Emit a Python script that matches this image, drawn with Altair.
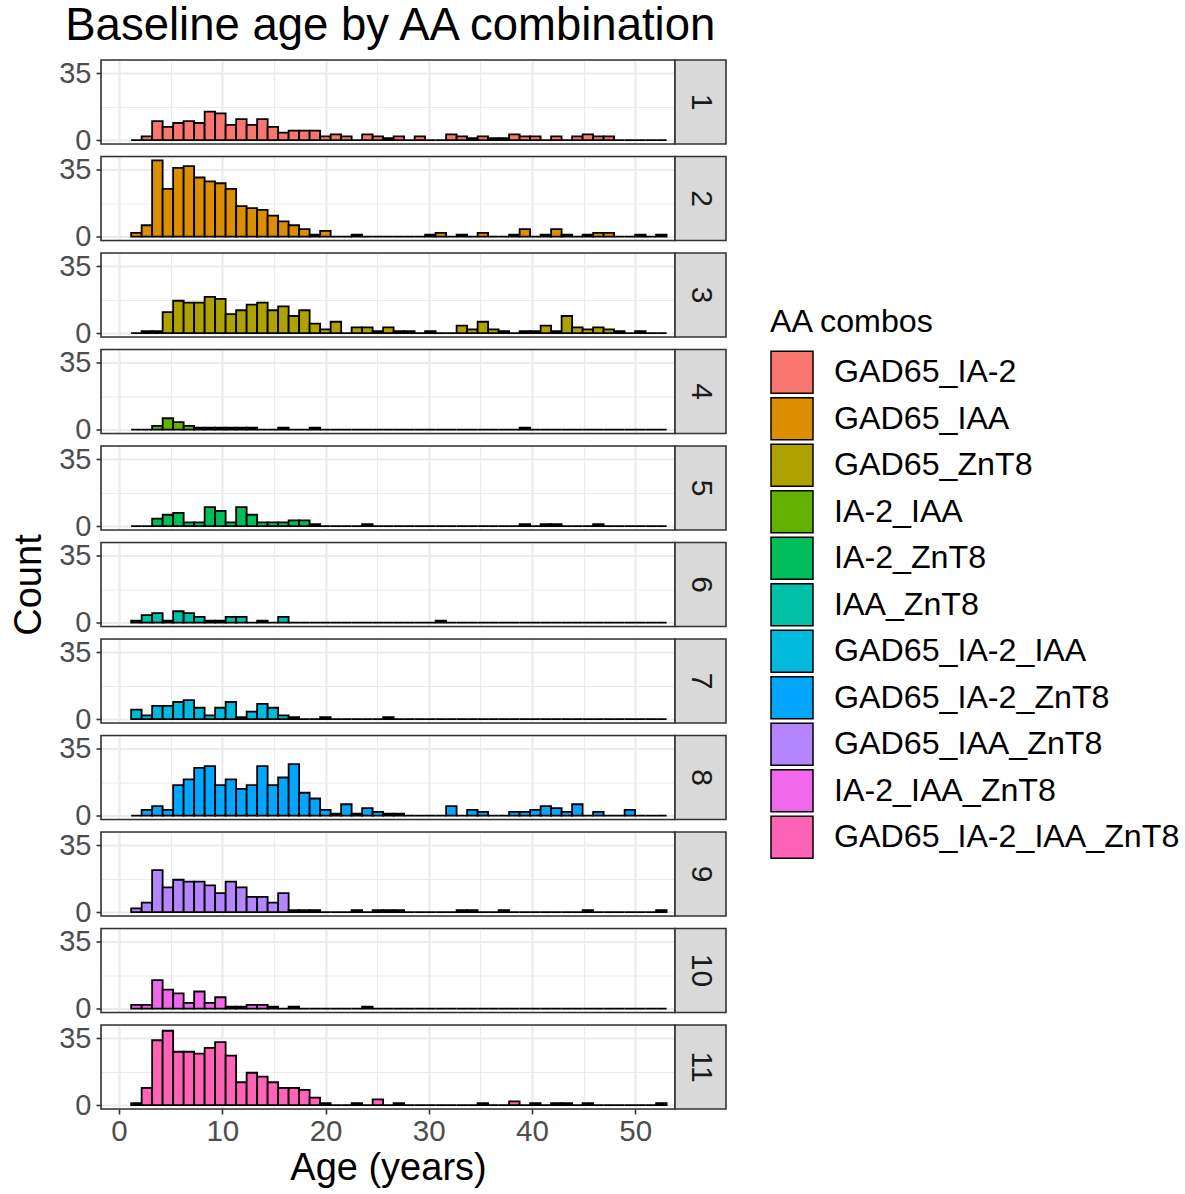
import altair as alt
import pandas as pd

combos = ["GAD65_IA-2", "GAD65_IAA", "GAD65_ZnT8", "IA-2_IAA", "IA-2_ZnT8", "IAA_ZnT8",
          "GAD65_IA-2_IAA", "GAD65_IA-2_ZnT8", "GAD65_IAA_ZnT8", "IA-2_IAA_ZnT8",
          "GAD65_IA-2_IAA_ZnT8"]
colors = ["#F8766D", "#DB8E00", "#AEA200", "#64B200", "#00BD5C", "#00C1A7",
          "#00BADE", "#00A6FF", "#B385FF", "#EF67EB", "#FF63B6"]

bin_first_edge = 1.17
bin_width = 1.017

counts_1 = [0,2,10,7,9,10,9,15,14,8, 11,8,11,7,4,5,5,5,2,3, 2,0,3,2,1,2,0,2,0,0, 3,2,1,2,1,1,3,2,2,0, 2,0,2,3,2,2,0,0,0,0,0]
counts_2 = [2,6,40,25,36,37,31,29,28,25, 16,15,14,11,8,6,4,1,3,0, 0,1,0,0,0,0,0,0,1,2, 0,1,0,2,0,0,1,4,0,1, 4,1,0,1,2,2,0,0,1,0,1]
counts_3 = [0,1,1,11,17,16,16,19,18,10, 12,15,16,12,14,9,12,5,2,6, 0,3,3,1,3,1,1,0,1,0, 0,4,2,6,2,1,0,1,1,4, 1,9,3,2,3,2,1,0,1,0,0]
counts_4 = [0,0,2,6,4,2,1,1,1,1, 1,1,0,0,1,0,0,1,0,0, 0,0,0,0,0,0,0,0,0,0, 0,0,0,0,0,0,0,1,0,0, 0,0,0,0,0,0,0,0,0,0,0]
counts_5 = [0,0,4,6,7,2,2,10,8,2, 10,6,2,2,2,3,3,1,0,0, 0,0,1,0,0,0,0,0,0,0, 0,0,0,0,0,0,0,1,0,1, 1,0,0,0,1,0,0,0,0,0,0]
counts_6 = [1,4,5,1,6,5,3,1,1,3, 3,0,1,0,3,0,0,0,0,0, 0,0,0,0,0,0,0,0,0,1, 0,0,0,0,0,0,0,0,0,0, 0,0,0,0,0,0,0,0,0,0,0]
counts_7 = [5,2,7,7,9,10,6,2,6,9, 1,4,8,6,2,1,0,0,1,0, 0,0,0,0,1,0,0,0,0,0, 0,0,0,0,0,0,0,0,0,0, 0,0,0,0,0,0,0,0,0,0,0]
counts_8 = [0,3,5,3,16,19,25,26,16,19, 14,16,26,16,20,27,12,9,3,1, 6,1,4,2,1,1,0,0,0,0, 5,0,3,2,0,0,2,2,3,5, 4,2,6,0,2,0,0,3,0,0,0]
counts_9 = [2,5,22,13,17,16,16,14,10,16, 13,8,8,5,10,1,1,1,0,0, 0,1,0,1,1,1,0,0,0,0, 0,1,1,0,0,1,0,0,0,0, 0,0,0,1,0,0,0,0,0,0,1]
counts_10 = [2,2,15,10,8,3,9,3,6,1, 1,2,2,1,0,1,0,0,0,0, 0,0,1,0,0,0,0,0,0,0, 0,0,0,0,0,0,0,0,0,0, 0,0,0,0,0,0,0,0,0,0,0]
counts_11 = [1,9,34,39,28,28,27,30,33,26, 12,17,15,12,9,9,8,4,1,0, 0,1,0,3,0,1,0,0,0,0, 0,0,0,1,0,0,2,0,1,0, 1,1,0,1,0,0,0,0,0,0,1]

all_counts = [counts_1, counts_2, counts_3, counts_4, counts_5, counts_6,
              counts_7, counts_8, counts_9, counts_10, counts_11]

x_tick_values = [0, 5, 10, 15, 20, 25, 30, 35, 40, 45, 50]
y_tick_values = [0, 17.5, 35]

rows = []
for p, cnts in enumerate(all_counts, start=1):
    for i, c in enumerate(cnts):
        rows.append(dict(panel=p, combo=combos[p - 1],
                         x0=bin_first_edge + i * bin_width,
                         x1=bin_first_edge + (i + 1) * bin_width,
                         count=c, zero=0))
df = pd.DataFrame(rows)

W, H = 574, 84
STRIP_W = 51
FONT = "Liberation Sans"

x_scale = alt.Scale(domain=[-1.75, 53.85], nice=False, zero=False)
y_scale = alt.Scale(domain=[-2.0, 42.0], nice=False, zero=False)

minor_x = "datum.value % 10 != 0"
grid_w_x = {"condition": {"test": minor_x, "value": 1.1}, "value": 2.2}
grid_w_y = {"condition": {"test": "datum.value == 17.5", "value": 1.1}, "value": 2.2}


def x_axis(bottom):
    if bottom:
        return alt.Axis(values=x_tick_values, grid=True, gridColor="#EBEBEB", gridWidth=grid_w_x,
                        labelExpr="datum.value % 10 == 0 ? datum.label : ''",
                        tickColor={"condition": {"test": minor_x, "value": "transparent"}, "value": "#333333"},
                        tickSize=5, tickWidth=1.6, domain=False,
                        labelFontSize=29.5, labelColor="#4D4D4D", labelPadding=3, labelFont=FONT,
                        title="Age (years)", titleFontSize=38, titleFontWeight="normal",
                        titleColor="black", titlePadding=4, titleFont=FONT)
    return alt.Axis(values=x_tick_values, grid=True, gridColor="#EBEBEB", gridWidth=grid_w_x,
                    labels=False, ticks=False, domain=False, title=None)


def y_axis(with_title):
    kw = dict(values=y_tick_values, grid=True, gridColor="#EBEBEB", gridWidth=grid_w_y,
              labelExpr="datum.value == 17.5 ? '' : datum.label",
              tickColor={"condition": {"test": "datum.value == 17.5", "value": "transparent"}, "value": "#333333"},
              tickSize=5, tickWidth=1.6, domain=False,
              labelFontSize=29, labelColor="#4D4D4D", labelPadding=5, labelFont=FONT)
    if with_title:
        kw.update(title="Count", titleFontSize=38, titleFontWeight="normal",
                  titleColor="black", titlePadding=10, titleFont=FONT)
    else:
        kw.update(title=None)
    return alt.Axis(**kw)


legend = alt.Legend(title="AA combos", orient="none", legendX=669, legendY=247,
                    symbolType="square", symbolSize=1764, symbolStrokeColor="black",
                    symbolStrokeWidth=1.5, symbolOpacity=1,
                    labelFontSize=32.2, labelFont=FONT, labelColor="black", labelOffset=20,
                    titleFontSize=32.2, titleFont=FONT, titleFontWeight="normal", titleColor="black",
                    titlePadding=11, rowPadding=-1.5, labelLimit=500)

panels = []
for p in range(1, 12):
    d = df[df.panel == p]
    bars = alt.Chart(d).mark_rect(stroke="black", strokeWidth=1.8).encode(
        x=alt.X("x0:Q", scale=x_scale, axis=x_axis(p == 11)),
        x2="x1:Q",
        y=alt.Y("count:Q", scale=y_scale, axis=y_axis(p == 6)),
        y2="zero:Q",
        fill=alt.Fill("combo:N", scale=alt.Scale(domain=combos, range=colors), legend=legend),
    )
    strip_df = pd.DataFrame({"label": [str(p)]})
    border = alt.Chart(strip_df).mark_rect(fillOpacity=0, stroke="#333333", strokeWidth=1.6).encode(
        x=alt.value(0), x2=alt.value(W), y=alt.value(0), y2=alt.value(H)
    )
    strip_rect = alt.Chart(strip_df).mark_rect(fill="#D9D9D9", stroke="#333333", strokeWidth=1.6).encode(
        x=alt.value(W), x2=alt.value(W + STRIP_W), y=alt.value(0), y2=alt.value(H)
    )
    strip_text = alt.Chart(strip_df).mark_text(angle=90, fontSize=30, font=FONT, color="#1A1A1A",
                                               align="center", baseline="middle").encode(
        x=alt.value(W + STRIP_W / 2), y=alt.value(H / 2), text="label:N"
    )
    panels.append(alt.layer(bars, border, strip_rect, strip_text).properties(width=W, height=H))

chart = alt.vconcat(*panels, spacing=12.5, bounds="flush").properties(
    title=alt.TitleParams("Baseline age by AA combination", anchor="start", fontSize=45.5,
                          font=FONT, fontWeight="normal", color="black", dx=55, offset=9),
    padding={"left": 10, "top": 4, "right": 2, "bottom": 2},
).configure_view(stroke=None).configure(background="white")

chart.save("out.html", embed_options={"renderer": "svg", "actions": False})
